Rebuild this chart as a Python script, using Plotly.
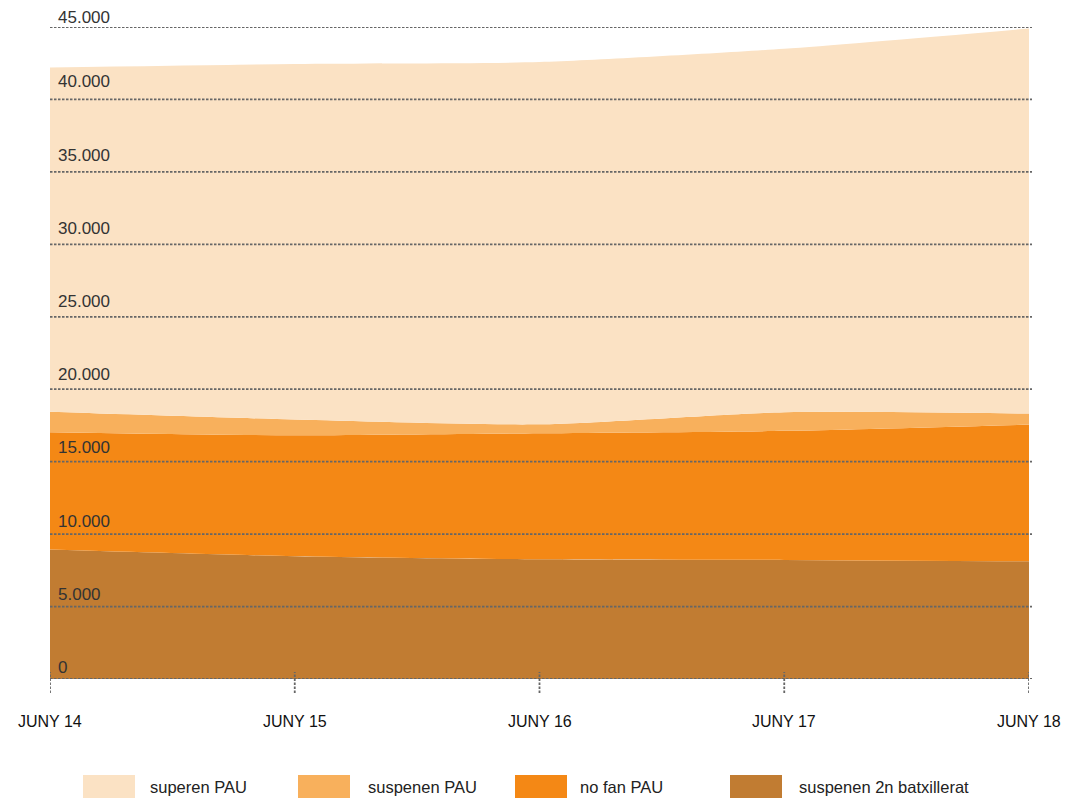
import plotly.graph_objects as go

categories = ["JUNY 14", "JUNY 15", "JUNY 16", "JUNY 17", "JUNY 18"]
suspenen_batx = [8930, 8470, 8260, 8220, 8120]
no_fan_pau = [8100, 8350, 8700, 8910, 9440]
suspenen_pau = [1410, 1090, 620, 1280, 760]
superen_pau = [23760, 24540, 25000, 25090, 26580]
y_ticks = [0, 5000, 10000, 15000, 20000, 25000, 30000, 35000, 40000, 45000]
y_tick_labels = ["0", "5.000", "10.000", "15.000", "20.000", "25.000", "30.000", "35.000", "40.000", "45.000"]

series = [
    ("suspenen 2n batxillerat", suspenen_batx, "#C17C32"),
    ("no fan PAU", no_fan_pau, "#F48815"),
    ("suspenen PAU", suspenen_pau, "#F8B05C"),
    ("superen PAU", superen_pau, "#FBE2C4"),
]

W, H = 1065, 798
ML, MR, MT, MB = 50, 36, 27, 119
PW = W - ML - MR
PH = H - MT - MB
FONT = "Liberation Sans, Arial, sans-serif"

fig = go.Figure()
for name, vals, col in series:
    fig.add_trace(go.Scatter(
        x=categories, y=vals, name=name, stackgroup="one",
        mode="lines", line=dict(width=0, shape="spline", smoothing=0.7, color=col),
        fillcolor=col, hoverinfo="skip", showlegend=False,
    ))

shapes = []
annotations = []
grid_col = "#666666"
dash = "2.5px,1.5px"
n = len(y_ticks)
for i, (v, lab) in enumerate(zip(y_ticks, y_tick_labels)):
    shapes.append(dict(type="line", xref="paper", yref="y", x0=0, x1=1 + 3 / PW, y0=v, y1=v,
                       line=dict(color=grid_col, width=1.8, dash=dash), layer="above"))
    ys = 0 + 0.75 * i if i < n - 1 else -2
    annotations.append(dict(xref="paper", yref="y", x=0, y=v, xshift=6, yshift=ys,
                            xanchor="left", yanchor="bottom", text=lab, showarrow=False,
                            font=dict(family=FONT, size=17, color="#333333")))

for c in categories:
    shapes.append(dict(type="line", xref="x", yref="paper", x0=c, x1=c,
                       y0=-14 / PH, y1=7 / PH,
                       line=dict(color=grid_col, width=1.8, dash=dash), layer="above"))
    annotations.append(dict(xref="x", yref="paper", x=c, y=0, yshift=-42,
                            xanchor="center", yanchor="middle", text=c, showarrow=False,
                            font=dict(family=FONT, size=16, color="#111111")))

# custom legend
leg_items = [("superen PAU", "#FBE2C4", 83, 150), ("suspenen PAU", "#F8B05C", 298, 368),
             ("no fan PAU", "#F48815", 515, 580), ("suspenen 2n batxillerat", "#C17C32", 730, 799)]
for name, col, bx, tx in leg_items:
    x0 = (bx - ML) / PW
    x1 = (bx + 52 - ML) / PW
    y0 = (MT + PH - 798) / PH
    y1 = (MT + PH - 775) / PH
    shapes.append(dict(type="rect", xref="paper", yref="paper", x0=x0, x1=x1, y0=y0, y1=y1,
                       fillcolor=col, line=dict(width=0)))
    annotations.append(dict(xref="paper", yref="paper", x=(tx - 2 - ML) / PW, y=(MT + PH - 787) / PH,
                            xanchor="left", yanchor="middle", text=name, showarrow=False,
                            font=dict(family=FONT, size=16.5, color="#222222")))

fig.update_layout(
    width=W, height=H,
    margin=dict(l=ML, r=MR, t=MT, b=MB, autoexpand=False),
    paper_bgcolor="white", plot_bgcolor="white",
    showlegend=False,
    shapes=shapes, annotations=annotations,
    xaxis=dict(range=[0, 4], showgrid=False, zeroline=False, showline=False,
               showticklabels=False, ticks="", automargin=False),
    yaxis=dict(range=[0, 45000], showgrid=False, zeroline=False, showline=False,
               showticklabels=False, tickvals=y_ticks, automargin=False),
)

fig.write_html("out.html", config={"displayModeBar": False},
               post_script="document.body.style.margin='0';document.body.style.overflow='hidden';")
